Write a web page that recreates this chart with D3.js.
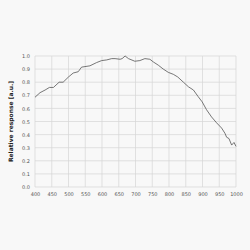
<!DOCTYPE html>
<html>
<head>
<meta charset="utf-8">
<script src="https://cdn.jsdelivr.net/npm/d3@7"></script>
<style>
  body { margin: 0; background: #f8f8f8; }
  svg { display: block; }
</style>
</head>
<body>
<svg id="chart" width="250" height="250"></svg>
<script>
// wavelength (nm) and relative response
var wavelength = [400, 415, 430, 443, 455, 472, 484, 500, 514, 529, 539, 564, 584, 599, 614, 629, 639, 654, 660, 669,
  679, 698, 713, 728, 743, 753, 768, 783, 798, 813, 826, 843, 858, 873, 887, 899, 912, 927, 942, 957, 967, 972, 979, 987, 994, 1000];
var response = [0.685, 0.72, 0.74, 0.76, 0.76, 0.80, 0.80, 0.84, 0.87, 0.88, 0.915, 0.925, 0.95, 0.965, 0.97, 0.98, 0.98, 0.975, 0.98, 1.0,
  0.98, 0.96, 0.965, 0.98, 0.975, 0.955, 0.93, 0.90, 0.875, 0.86, 0.84, 0.80, 0.765, 0.74, 0.69, 0.65, 0.59, 0.535, 0.49, 0.45, 0.41, 0.38, 0.37, 0.32, 0.34, 0.31];
var xTicks = d3.range(400, 1001, 50);
var yTicks = d3.range(0, 11).map(d => d / 10);

var svg = d3.select("#chart");
var pLeft = 35, pRight = 236, pTop = 56, pBottom = 187;

var x = d3.scaleLinear().domain([400, 1000]).range([pLeft, pRight]);
var y = d3.scaleLinear().domain([0, 1]).range([pBottom, pTop]);

// grid
svg.append("g")
  .selectAll("line")
  .data(xTicks)
  .enter()
  .append("line")
  .attr("x1", d => x(d)).attr("x2", d => x(d))
  .attr("y1", pTop).attr("y2", pBottom)
  .attr("stroke", "#d6d6d6").attr("stroke-width", 0.7);

svg.append("g")
  .selectAll("line")
  .data(yTicks)
  .enter()
  .append("line")
  .attr("x1", pLeft).attr("x2", pRight)
  .attr("y1", d => y(d)).attr("y2", d => y(d))
  .attr("stroke", "#d6d6d6").attr("stroke-width", 0.7);

// axes (labels only)
var xAxis = d3.axisBottom(x).tickValues(xTicks).tickSize(0).tickPadding(5).tickFormat(d3.format("d"));
var yAxis = d3.axisLeft(y).tickValues(yTicks).tickSize(0).tickPadding(5).tickFormat(d3.format(".1f"));

var gx = svg.append("g").attr("transform", "translate(0," + pBottom + ")").call(xAxis);
var gy = svg.append("g").attr("transform", "translate(" + pLeft + ",0)").call(yAxis);
[gx, gy].forEach(g => {
  g.select(".domain").remove();
  g.selectAll("text").attr("font-family", "DejaVu Sans").attr("font-size", 5).attr("fill", "#555");
});

// curve
var line = d3.line()
  .x((d, i) => x(wavelength[i]))
  .y(d => y(d));

svg.append("path")
  .datum(response)
  .attr("d", line)
  .attr("fill", "none")
  .attr("stroke", "#555")
  .attr("stroke-width", 0.8);

// y title
svg.append("text")
  .attr("transform", "translate(13," + ((pTop + pBottom) / 2) + ") rotate(-90)")
  .attr("text-anchor", "middle")
  .attr("font-family", "DejaVu Sans")
  .attr("font-size", 6)
  .attr("font-weight", "bold")
  .attr("fill", "#222")
  .text("Relative response [a.u.]");
</script>
</body>
</html>
